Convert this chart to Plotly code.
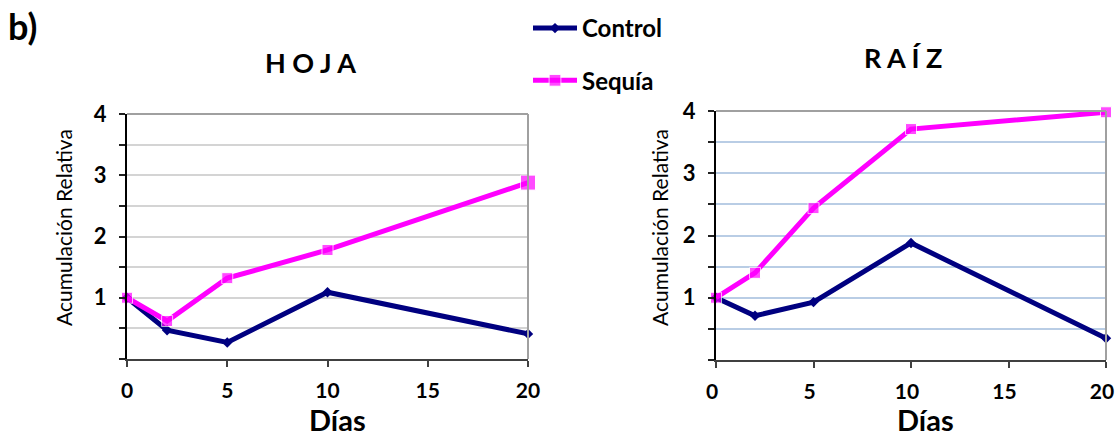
import plotly.graph_objects as go

# Días de muestreo y acumulación relativa por órgano
dias = [0, 2, 5, 10, 20]
hoja_control = [1.0, 0.47, 0.27, 1.09, 0.41]
hoja_sequia = [1.0, 0.62, 1.32, 1.78, 2.88]
raiz_control = [1.0, 0.71, 0.93, 1.88, 0.35]
raiz_sequia = [1.0, 1.40, 2.44, 3.71, 3.98]

x_ticks = [0, 5, 10, 15, 20]
y_ticks = [0, 1, 2, 3, 4]
y_ticktext = ["", "1", "2", "3", "4"]

NAVY = "#000080"
MAGENTA = "#FF00FF"
FONT = "Lato"

W, H = 1116, 438


def px_dom(a, b, total):
    return [a / total, b / total]


def ann(text, x, y, size, xanchor="center", **kw):
    fig.add_annotation(text=text, x=x / W, y=1 - y / H, xref="paper", yref="paper",
                       xanchor=xanchor, yanchor="middle", showarrow=False,
                       font=dict(family=FONT, size=size, color="black"), **kw)


fig = go.Figure()

panels = [
    # (ejes, control, sequía, tamaños de marcador, color de rejilla, px en x, px en y, desplazamiento etiquetas x)
    ("x", "y", hoja_control, hoja_sequia, [11, 11, 11, 11, 15], "#d4d4d4", (127, 528), (114, 359), 0),
    ("x2", "y2", raiz_control, raiz_sequia, [11, 11, 11, 11, 11], "#b9cde5", (716, 1106), (111, 360), -4),
]

for i, (xa, ya, ctrl, seq, sizes, gridc, xpx, ypx, shift) in enumerate(panels):
    fig.add_trace(go.Scatter(
        x=dias, y=ctrl, xaxis=xa, yaxis=ya, name="Control",
        mode="lines+markers", line=dict(color=NAVY, width=5),
        marker=dict(symbol="diamond", size=8, color=NAVY),
        legendgroup="control", showlegend=(i == 0), cliponaxis=False,
    ))
    fig.add_trace(go.Scatter(
        x=dias, y=seq, xaxis=xa, yaxis=ya, name="Sequía",
        mode="lines+markers", line=dict(color=MAGENTA, width=5),
        marker=dict(symbol="square", size=sizes, color=MAGENTA),
        legendgroup="sequia", showlegend=(i == 0), cliponaxis=False,
    ))

    xkey = "xaxis" if xa == "x" else "xaxis2"
    ykey = "yaxis" if ya == "y" else "yaxis2"
    fig.update_layout(**{
        xkey: dict(
            domain=px_dom(xpx[0], xpx[1], W), anchor=ya, range=[0, 20],
            tickvals=x_ticks, ticks="outside", ticklen=6, tickwidth=2,
            tickcolor="#404040", showline=True, linecolor="#404040", linewidth=2,
            showgrid=False, zeroline=False, ticklabelstandoff=6, automargin=False,
            ticklabeloverflow="allow", ticklabelshift=shift,
            tickfont=dict(family=FONT, size=21, color="black", weight="bold"),
        ),
        ykey: dict(
            domain=[(H - ypx[1]) / H, (H - ypx[0]) / H], anchor=xa, range=[0, 4],
            tickvals=y_ticks, ticktext=y_ticktext, ticks="outside", ticklen=6,
            tickwidth=2, tickcolor="#202020", showline=True, linecolor="black",
            linewidth=2, showgrid=True, gridcolor=gridc, gridwidth=2,
            zeroline=False, ticklabelstandoff=8, automargin=False,
            ticklabeloverflow="allow",
            minor=dict(dtick=0.5, showgrid=True, gridcolor=gridc, gridwidth=2,
                       ticks="outside", ticklen=6, tickwidth=2, tickcolor="#202020"),
            tickfont=dict(family=FONT, size=22, color="black", weight="bold"),
        ),
    })

    # marco gris superior y derecho
    xr = "x" if xa == "x" else "x2"
    yr = "y" if ya == "y" else "y2"
    fig.add_shape(type="line", xref=f"{xr} domain", yref=f"{yr} domain",
                  x0=0, x1=1, y0=1, y1=1, line=dict(color="#a0a0a0", width=2))
    fig.add_shape(type="line", xref=f"{xr} domain", yref=f"{yr} domain",
                  x0=1, x1=1, y0=0, y1=1, line=dict(color="#a0a0a0", width=2))

# títulos de ejes
ann("Acumulación Relativa", 63, 228, 21, textangle=-90)
ann("Acumulación Relativa", 659, 228, 21, textangle=-90)
ann("<b>Días</b>", 337, 419, 29)
ann("<b>Días</b>", 925, 419, 29)

# títulos de paneles
ann("<b>H O J A</b>", 310, 62, 27)
ann("<b>R A Í Z</b>", 903, 58, 27)
ann("<b>b)</b>", 6, 26, 36, xanchor="left")

fig.update_layout(
    width=W, height=H, margin=dict(l=0, r=0, t=0, b=0, autoexpand=False),
    paper_bgcolor="white", plot_bgcolor="white",
    showlegend=True,
    legend=dict(x=528 / W, y=1 - 6 / H, xanchor="left", yanchor="top",
                font=dict(family=FONT, size=24, color="black", weight="bold"),
                tracegroupgap=18, itemwidth=44, bgcolor="rgba(0,0,0,0)"),
)

fig.write_html("out.html")
